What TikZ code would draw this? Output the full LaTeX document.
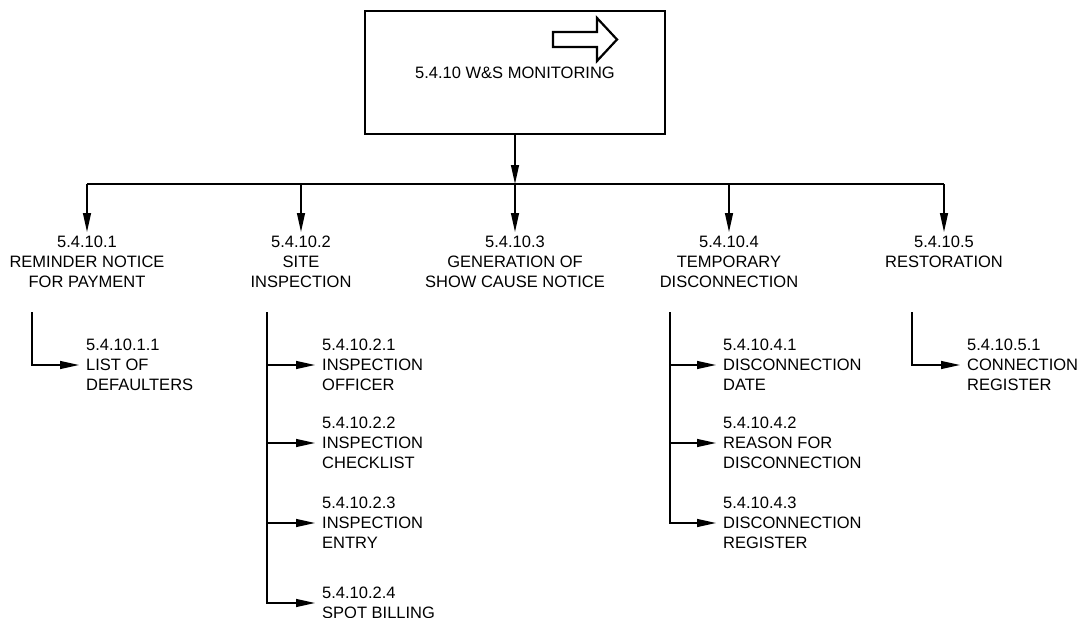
\documentclass[tikz,border=0pt]{standalone}
\usepackage{fontspec}
\setmainfont{Liberation Sans}
\usetikzlibrary{arrows.meta}

\begin{document}
\begin{tikzpicture}[x=1pt,y=-1pt,
  txt/.style={font=\fontsize{16.5}{20}\selectfont},
  lbl/.style={txt, align=center, inner sep=4pt, anchor=north},
  sub/.style={txt, align=left, inner ysep=0pt, inner xsep=7pt, anchor=west},
  ln/.style={line width=1.3pt},
  arr/.style={ln, -{Triangle[length=19pt,width=8pt]}}]
\useasboundingbox (0,0) rectangle (1082,618);
% top box
\node[draw, txt, line width=1.5pt, minimum width=300pt, minimum height=123pt, inner sep=0pt] (main) at (515,72.5) {5.4.10 W\&S MONITORING};
\draw[line width=2.2pt, line join=miter] (553,32)--(597,32)--(597,18)--(617,39.5)--(597,61)--(597,47)--(553,47)--cycle;
% second level
\node[lbl] (c1) at (87,232) {5.4.10.1\\REMINDER NOTICE\\FOR PAYMENT};
\node[lbl] (c2) at (301,232) {5.4.10.2\\SITE\\INSPECTION};
\node[lbl] (c3) at (515,232) {5.4.10.3\\GENERATION OF\\SHOW CAUSE NOTICE};
\node[lbl] (c4) at (729,232) {5.4.10.4\\TEMPORARY\\DISCONNECTION};
\node[lbl] (c5) at (944,232) {5.4.10.5\\RESTORATION};
\coordinate (bus) at (515,184);
\draw[arr] (main.south) -- (bus);
\draw[ln] (c1 |- bus) -- (c5 |- bus);
\foreach \c in {c1,c2,c3,c4,c5}
  \draw[arr] (\c |- bus) -- (\c);
% third level
\coordinate (t1) at (32,312);
\coordinate (t2) at (267,312);
\coordinate (t4) at (670,312);
\coordinate (t5) at (912,312);
\node[sub] (s11) at (79,365) {5.4.10.1.1\\LIST OF\\DEFAULTERS};
\node[sub] (s21) at (315,365) {5.4.10.2.1\\INSPECTION\\OFFICER};
\node[sub] (s22) at (315,443) {5.4.10.2.2\\INSPECTION\\CHECKLIST};
\node[sub] (s23) at (315,523) {5.4.10.2.3\\INSPECTION\\ENTRY};
\node[sub] (s24) at (315,603) {5.4.10.2.4\\SPOT BILLING};
\node[sub] (s41) at (716,365) {5.4.10.4.1\\DISCONNECTION\\DATE};
\node[sub] (s42) at (716,443) {5.4.10.4.2\\REASON FOR\\DISCONNECTION};
\node[sub] (s43) at (716,523) {5.4.10.4.3\\DISCONNECTION\\REGISTER};
\node[sub] (s51) at (960,365) {5.4.10.5.1\\CONNECTION\\REGISTER};
\draw[arr] (t1) |- (s11);
\draw[arr] (t2) |- (s24);
\foreach \n in {s21,s22,s23}
  \draw[arr] (t2 |- \n) -- (\n);
\draw[arr] (t4) |- (s43);
\foreach \n in {s41,s42}
  \draw[arr] (t4 |- \n) -- (\n);
\draw[arr] (t5) |- (s51);
\end{tikzpicture}
\end{document}
